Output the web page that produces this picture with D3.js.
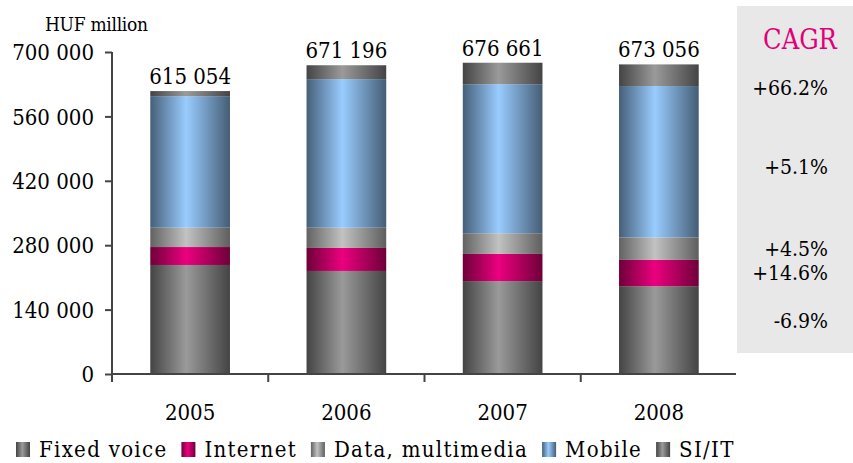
<!DOCTYPE html>
<html>
<head>
<meta charset="utf-8">
<script src="https://cdn.jsdelivr.net/npm/d3@7"></script>
<style>
  body { margin: 0; background: #fff; }
  svg text { font-family: "DejaVu Serif Condensed", "DejaVu Serif", serif; font-stretch: condensed; fill: #000; }
</style>
</head>
<body>
<div id="chart"></div>
<script>
// data (HUF million)
var years = ["2005", "2006", "2007", "2008"];
var seriesNames = ["Fixed voice", "Internet", "Data, multimedia", "Mobile", "SI/IT"];
var fixedVoice = [237000, 224000, 202000, 191000];
var internet = [39000, 50000, 59000, 57000];
var dataMultimedia = [42000, 44000, 45000, 49000];
var mobile = [286000, 323000, 324000, 329000];
var siIt = [11054, 30196, 46661, 47056];
var totals = ["615 054", "671 196", "676 661", "673 056"];
var cagr = ["-6.9%", "+14.6%", "+4.5%", "+5.1%", "+66.2%"];
var yTicks = [0, 140000, 280000, 420000, 560000, 700000];

var width = 853, height = 463;
var margin = { top: 52, left: 112, right: 117, bottom: 89 };
var serif = '"DejaVu Serif Condensed", "DejaVu Serif", serif';

var svg = d3.select("#chart").append("svg")
    .attr("width", width)
    .attr("height", height)
    .attr("font-family", serif);

// gradients: dark edges, light centre
var palettes = [
    ["#444444", "#9a9a9a", "#444444"],
    ["#6e0038", "#ec007f", "#6e0038"],
    ["#626262", "#c2c2c2", "#5e5e5e"],
    ["#465f79", "#99ccff", "#455d75"],
    ["#444444", "#9a9a9a", "#444444"]
];
var defs = svg.append("defs");
palettes.forEach(function (p, i) {
    var g = defs.append("linearGradient")
        .attr("id", "grad" + i)
        .attr("x1", "0%").attr("x2", "100%")
        .attr("y1", "0%").attr("y2", "0%");
    g.append("stop").attr("offset", "0%").attr("stop-color", p[0]);
    g.append("stop").attr("offset", "45%").attr("stop-color", p[1]);
    g.append("stop").attr("offset", "70%").attr("stop-color", d3.interpolateRgb(p[1], p[2])(0.45));
    g.append("stop").attr("offset", "100%").attr("stop-color", p[2]);
});

var table = years.map(function (y, i) {
    return {
        year: y,
        "Fixed voice": fixedVoice[i],
        "Internet": internet[i],
        "Data, multimedia": dataMultimedia[i],
        "Mobile": mobile[i],
        "SI/IT": siIt[i],
        label: totals[i]
    };
});

var stacked = d3.stack().keys(seriesNames)(table);

var x = d3.scaleBand()
    .domain(years)
    .range([margin.left, width - margin.right + 1])
    .paddingInner(0.49)
    .paddingOuter(0.245);

var y = d3.scaleLinear()
    .domain([0, 700000])
    .range([height - margin.bottom, margin.top]);

// CAGR panel
svg.append("rect")
    .attr("x", 737).attr("y", 6)
    .attr("width", 116).attr("height", 347)
    .attr("fill", "#e8e8e8");

svg.append("text")
    .attr("x", 800).attr("y", 49)
    .attr("text-anchor", "middle")
    .style("font-size", "27px")
    .style("fill", "#e2007a")
    .text("CAGR");

// bars
svg.selectAll("g.series")
    .data(stacked)
    .enter().append("g")
    .attr("class", "series")
    .attr("fill", function (d, i) { return "url(#grad" + i + ")"; })
    .selectAll("rect")
    .data(function (d) { return d; })
    .enter().append("rect")
    .attr("x", function (d) { return x(d.data.year); })
    .attr("width", x.bandwidth())
    .attr("y", function (d) { return y(d[1]); })
    .attr("height", function (d) { return y(d[0]) - y(d[1]); });

// total labels
svg.selectAll("text.total")
    .data(stacked[stacked.length - 1])
    .enter().append("text")
    .attr("class", "total")
    .attr("x", function (d) { return x(d.data.year) + x.bandwidth() / 2; })
    .attr("y", function (d) { return y(d[1]) - 7; })
    .attr("text-anchor", "middle")
    .style("font-size", "22px")
    .text(function (d) { return d.data.label; });

// axes
var yAxis = svg.append("g")
    .attr("transform", "translate(" + margin.left + ",0)")
    .call(d3.axisLeft(y).tickValues(yTicks).tickSize(7).tickPadding(11)
        .tickFormat(function (d) { return d3.format(",")(d).replace(/,/g, " "); }));
yAxis.attr("font-family", serif);
yAxis.selectAll("text").style("font-size", "22px").attr("dy", "0.35em");

var xAxis = svg.append("g")
    .attr("transform", "translate(0," + y(0) + ")");
xAxis.append("line")
    .attr("x1", margin.left).attr("x2", width - margin.right)
    .attr("y1", 0).attr("y2", 0);
xAxis.selectAll("line.tick")
    .data(years)
    .enter().append("line")
    .attr("class", "tick")
    .attr("x1", function (d) { return x(d) - x.step() * 0.245; })
    .attr("x2", function (d) { return x(d) - x.step() * 0.245; })
    .attr("y1", 0).attr("y2", 8);
xAxis.selectAll("text")
    .data(years)
    .enter().append("text")
    .attr("x", function (d) { return x(d) + x.bandwidth() / 2; })
    .attr("y", 46)
    .attr("text-anchor", "middle")
    .style("font-size", "22px")
    .text(function (d) { return d; });

svg.selectAll(".domain, .tick line, g line")
    .attr("stroke", "#444")
    .attr("stroke-width", 2);
yAxis.select(".domain").attr("d", "M0," + (y(0) + 8) + "V" + y(700000));

// unit label
svg.append("text")
    .attr("x", 45).attr("y", 31)
    .style("font-size", "19px")
    .style("letter-spacing", "-0.3px")
    .text("HUF million");

// CAGR values next to the 2008 segments
var last = stacked.map(function (s) { return s[s.length - 1]; });
var cagrY = last.map(function (d) { return y((d[0] + d[1]) / 2); });
cagrY[4] = Math.max(cagrY[4], 88);
cagrY[3] = cagrY[3] + 5;
cagrY[0] = cagrY[0] - 9;
svg.selectAll("text.cagr")
    .data(cagr)
    .enter().append("text")
    .attr("class", "cagr")
    .attr("x", 828)
    .attr("y", function (d, i) { return cagrY[i]; })
    .attr("dy", "0.35em")
    .attr("text-anchor", "end")
    .style("font-size", "21px")
    .text(function (d) { return d; });

// legend
var legend = svg.append("g").attr("transform", "translate(16,457)");
var xoff = 0;
seriesNames.forEach(function (name, i) {
    var item = legend.append("g").attr("transform", "translate(" + xoff + ",0)");
    item.append("rect")
        .attr("x", 0).attr("y", -15)
        .attr("width", 14).attr("height", 15)
        .attr("fill", "url(#grad" + i + ")");
    var t = item.append("text")
        .attr("x", 23).attr("y", 0)
        .style("font-size", "22px")
        .style("letter-spacing", "1.3px")
        .text(name);
    xoff += 23 + t.node().getComputedTextLength() + 14;
});
</script>
</body>
</html>
